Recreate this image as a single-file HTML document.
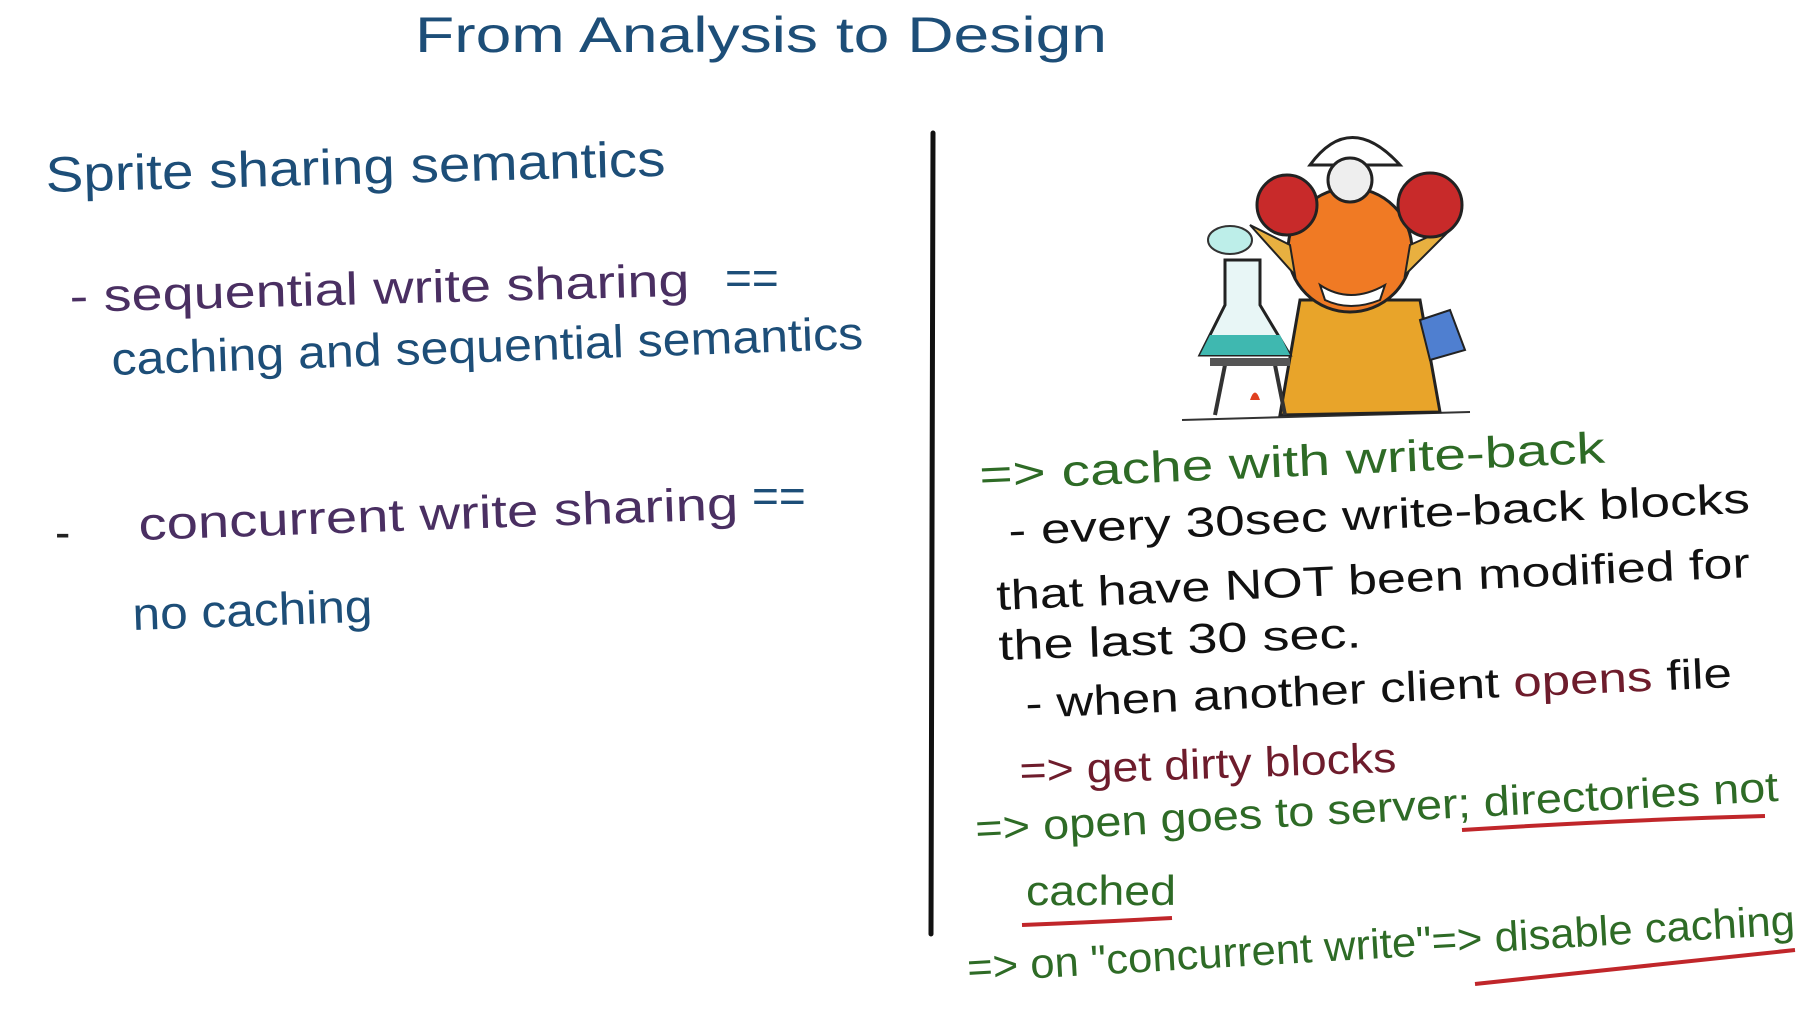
<!DOCTYPE html>
<html><head><meta charset="utf-8"><style>
html,body{margin:0;padding:0;background:#fff;}
svg{display:block;}
text{font-family:"Liberation Sans",sans-serif;}
</style></head><body>
<svg width="1818" height="1011" viewBox="0 0 1818 1011">
<rect width="1818" height="1011" fill="#fff"/>
<text x="415" y="52" font-size="50" fill="#1d4e78" textLength="692" lengthAdjust="spacingAndGlyphs">From Analysis to Design</text>

<g>
<text x="46" y="192" font-size="50" fill="#1d4e78" textLength="620" lengthAdjust="spacingAndGlyphs" transform="rotate(-1.5 46 192)">Sprite sharing semantics</text>
<text x="70" y="312" font-size="46" fill="#4a2f62" textLength="620" lengthAdjust="spacingAndGlyphs" transform="rotate(-1.5 70 312)">- sequential write sharing</text>
<text x="725" y="294" font-size="46" fill="#1d4e78">==</text>
<text x="112" y="375" font-size="46" fill="#1d4e78" textLength="752" lengthAdjust="spacingAndGlyphs" transform="rotate(-2 112 375)">caching and sequential semantics</text>
<text x="55" y="548" font-size="46" fill="#222">-</text>
<text x="139" y="540" font-size="46" fill="#4a2f62" textLength="600" lengthAdjust="spacingAndGlyphs" transform="rotate(-2 139 540)">concurrent write sharing</text>
<text x="752" y="512" font-size="46" fill="#1d4e78">==</text>
<text x="133" y="630" font-size="46" fill="#1d4e78" textLength="240" lengthAdjust="spacingAndGlyphs" transform="rotate(-2 133 630)">no caching</text>
</g>

<line x1="933" y1="133" x2="931" y2="934" stroke="#111" stroke-width="5" stroke-linecap="round"/>

<g>
<line x1="1182" y1="420" x2="1470" y2="412" stroke="#333" stroke-width="2"/>
<path d="M1300 300 L1280 415 L1440 412 L1420 300 Z" fill="#e8a42a" stroke="#222" stroke-width="3"/>
<circle cx="1350" cy="250" r="62" fill="#f07a24" stroke="#222" stroke-width="3"/>
<path d="M1290 245 L1250 225 L1295 275 Z" fill="#e8b040" stroke="#222" stroke-width="2"/>
<path d="M1410 245 L1455 225 L1405 275 Z" fill="#e8b040" stroke="#222" stroke-width="2"/>
<path d="M1320 285 Q1350 305 1385 285 L1380 300 Q1350 312 1325 300 Z" fill="#fff" stroke="#222" stroke-width="2"/>
<path d="M1310 165 Q1350 110 1400 165 Z" fill="#fff" stroke="#222" stroke-width="3"/>
<circle cx="1350" cy="180" r="22" fill="#eee" stroke="#222" stroke-width="3"/>
<circle cx="1287" cy="205" r="30" fill="#c82a2a" stroke="#222" stroke-width="3"/>
<circle cx="1430" cy="205" r="32" fill="#c82a2a" stroke="#222" stroke-width="3"/>
<path d="M1225 260 L1225 305 L1200 355 L1290 355 L1260 305 L1260 260 Z" fill="#e8f6f6" stroke="#222" stroke-width="3"/>
<path d="M1210 335 L1280 335 L1290 355 L1200 355 Z" fill="#3fb8b0"/>
<ellipse cx="1230" cy="240" rx="22" ry="14" fill="#bdeee9" stroke="#333" stroke-width="2"/>
<line x1="1225" y1="365" x2="1215" y2="415" stroke="#333" stroke-width="4"/>
<line x1="1275" y1="365" x2="1285" y2="415" stroke="#333" stroke-width="4"/>
<rect x="1210" y="358" width="80" height="8" fill="#555"/>
<path d="M1250 400 Q1255 385 1260 400 Z" fill="#e04020"/>
<path d="M1420 320 L1450 310 L1465 350 L1430 360 Z" fill="#4f7fd0" stroke="#222" stroke-width="2"/>
</g>

<g>
<text x="980" y="490" font-size="44" fill="#2e6b26" textLength="626" lengthAdjust="spacingAndGlyphs" transform="rotate(-2.5 980 490)">=&gt; cache with write-back</text>
<text x="1009" y="545" font-size="42" fill="#111" textLength="742" lengthAdjust="spacingAndGlyphs" transform="rotate(-2.5 1009 545)">- every 30sec write-back blocks</text>
<text x="997" y="610" font-size="42" fill="#111" textLength="754" lengthAdjust="spacingAndGlyphs" transform="rotate(-2.5 997 610)">that have NOT been modified for</text>
<text x="999" y="660" font-size="42" fill="#111" textLength="363" lengthAdjust="spacingAndGlyphs" transform="rotate(-2 999 660)">the last 30 sec.</text>
<text x="1026" y="718" font-size="42" fill="#111" transform="rotate(-2.5 1026 718)" textLength="707" lengthAdjust="spacingAndGlyphs">- when another client <tspan fill="#6e1c2c">opens</tspan> file</text>
<text x="1020" y="785" font-size="42" fill="#6e1c2c" textLength="377" lengthAdjust="spacingAndGlyphs" transform="rotate(-2 1020 785)">=&gt; get dirty blocks</text>
<text x="976" y="843" font-size="42" fill="#2e6b26" textLength="804" lengthAdjust="spacingAndGlyphs" transform="rotate(-3 976 843)">=&gt; open goes to server; directories not</text>
<path d="M1462 830 Q1620 820 1765 816" stroke="#c0262a" stroke-width="4" fill="none"/>
<text x="1026" y="905" font-size="42" fill="#2e6b26" textLength="150" lengthAdjust="spacingAndGlyphs">cached</text>
<path d="M1022 925 Q1100 922 1172 918" stroke="#c0262a" stroke-width="4" fill="none"/>
<text x="968" y="982" font-size="42" fill="#2e6b26" textLength="829" lengthAdjust="spacingAndGlyphs" transform="rotate(-3.3 968 982)">=&gt; on "concurrent write"=&gt; disable caching</text>
<path d="M1475 984 Q1640 966 1795 950" stroke="#c0262a" stroke-width="4" fill="none"/>
</g>
</svg>
</body></html>
